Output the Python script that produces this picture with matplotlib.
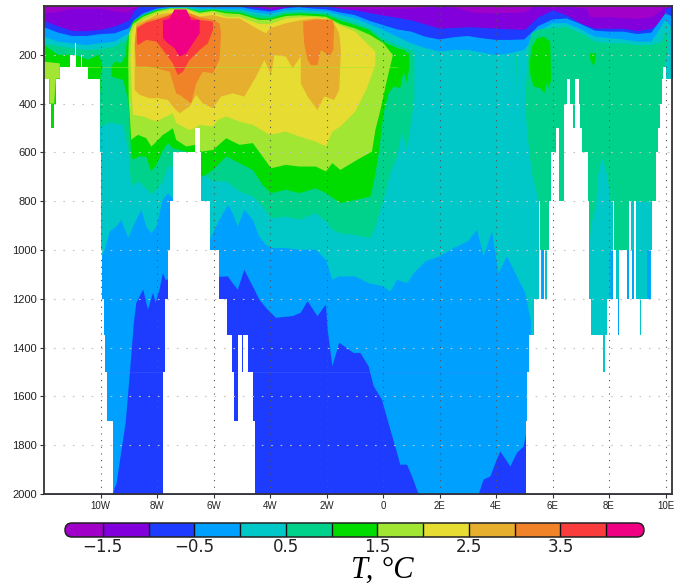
import numpy as np
import matplotlib
matplotlib.use("Agg")
import matplotlib.pyplot as plt
from matplotlib.patches import FancyBboxPatch

# band colours, coldest first (one per interval of the colour bar)
band_colors = ["#a000c8", "#8200dc", "#1e3cff", "#00a0ff", "#00c8c8", "#00d28c", "#00dc00",
               "#a0e632", "#e6dc32", "#e6af2d", "#f08228", "#fa3c3c", "#f00082"]
levels = [-1.5, -1.0, -0.5, 0.0, 0.5, 1.0, 1.5, 2.0, 2.5, 3.0, 3.5, 4.0]
cbar_labels = ["\u22121.5", "\u22120.5", "0.5", "1.5", "2.5", "3.5"]
cbar_ticks = [-1.5, -0.5, 0.5, 1.5, 2.5, 3.5]

x_ticks = [-10, -8, -6, -4, -2, 0, 2, 4, 6, 8, 10]
x_labels = ["10W", "8W", "6W", "4W", "2W", "0", "2E", "4E", "6E", "8E", "10E"]
y_ticks = [200, 400, 600, 800, 1000, 1200, 1400, 1600, 1800, 2000]

# sea floor, step per section between the edges
bathy_lon = [-12, -11.81, -11.74, -11.64, -11.58, -11.44, -11.08, -10.91, -10.87, -10.7, -10.66, -10.44,
             -10.02, -9.98, -9.93, -9.89, -9.83, -9.76, -9.55, -7.79, -7.7, -7.61, -7.53, -7.44, -6.67,
             -6.49, -6.44, -6.14, -5.81, -5.53, -5.34, -5.28, -5.13, -5.0, -4.96, -4.78, -4.61, -4.53,
             5.06, 5.11, 5.17, 5.36, 5.52, 5.55, 5.61, 5.69, 5.73, 5.81, 5.89, 5.94, 5.99, 6.05, 6.14,
             6.22, 6.4, 6.42, 6.51, 6.63, 6.73, 6.79, 6.95, 6.97, 7.05, 7.25, 7.29, 7.37, 7.78, 7.85, 7.93,
             8.14, 8.17, 8.25, 8.31, 8.37, 8.64, 8.7, 8.77, 8.82, 8.88, 8.96, 9.08, 9.14, 9.47, 9.53, 9.65,
             9.73, 9.82, 9.87, 9.9, 10.02, 10.25]
bathy_dep = [300, 400, 500, 400, 300, 250, 200, 150, 250, 200, 250, 300,
             600, 1000, 1200, 1350, 1500, 1700, 2000, 1500, 1200, 1000, 800, 600, 500,
             600, 800, 1000, 1200, 1350, 1500, 1700, 1350, 1500, 1350, 1500, 1700, 2000,
             1700, 1500, 1350, 1200, 800, 1000, 1200, 1000, 1200, 1000, 800, 600, 600, 600, 500,
             800, 500, 400, 300, 400, 500, 300, 400, 500, 600, 800, 1200, 1350, 1500, 1350, 1200,
             800, 1000, 1200, 1350, 1000, 1200, 800, 1000, 1200, 800, 1200, 1350, 1200, 1000, 800,
             600, 500, 400, 300, 250, 300]

# upper limits of the cold surface layers
t_m15_lon = [-12, -11.5, -11, -10, -9.5, -9.1, -8.8, -8.5, -4.5, -4, -3.5, -2, -1.5, 0, 1, 2, 2.5, 3.2, 4, 5,
             5.3, 6, 6.5, 7.2, 7.3, 8, 9, 9.5, 9.9, 10.25]
t_m15_dep = [30, 22, 10, 10, 20, 25, 8, 0, 0, 8, 0, 0, 8, 12, 8, 0, 5, 25, 28, 25,
             0, 5, 0, 10, 44, 44, 51, 44, 10, 0]

t_m10_lon = [-12, -11.5, -11, -10.5, -10, -9.5, -9, -8.8, -8.6, -5, -4.5, -3.8, -3.3, -2, -1.5, -1, 0, 1, 2, 3, 4, 5,
             5.5, 6, 6.5, 7, 7.5, 8, 8.5, 9, 9.5, 9.88, 10, 10.25]
t_m10_dep = [60, 82, 101, 101, 96, 82, 57, 16, 0, 0, 5, 16, 0, 0, 10, 16, 37, 57, 91, 85, 91, 96,
             44, 16, 37, 71, 91, 91, 91, 101, 91, 57, 10, 3]

lon_half = [-12, -11.5, -11, -10.5, -10, -9.5, -9, -8.8, -8.5, -8, -7.5, -7, -6.5, -6, -5.5, -5, -4.5, -4, -3.5, -3,
            -2.5, -2, -1.5, -1, -0.5, 0, 0.5, 1, 1.5, 2, 2.5, 3, 3.5, 4, 4.5, 5, 5.5, 6, 6.5, 7, 7.5, 8, 8.5, 9,
            9.5, 10, 10.25]
t_m05_top = [87, 109, 123, 123, 115, 112, 91, 57, 30, 10, 3, 0, 5, 5, 5, 5, 16, 23, 10, 5,
             10, 14, 27, 37, 60, 78, 96, 105, 126, 137, 128, 123, 132, 139, 139, 137, 82, 55, 51, 74, 101, 105, 105, 115,
             109, 30, 44]
t_00_top = [126, 146, 153, 160, 153, 146, 112, 74, 41, 16, 8, 5, 11, 11, 14, 14, 27, 33, 19, 16,
            19, 22, 37, 51, 74, 98, 126, 153, 173, 187, 180, 180, 191, 201, 194, 180, 105, 71, 71, 96, 126, 132, 137, 146,
            146, 57, 98]

# lower limit of T > -0.5, west to east
t_m05_bot_lon = [-12, -9.55, -9.49, -9.44, -9.29, -9.11, -8.96, -8.82, -8.73, -8.49, -8.32, -8.14, -8.05, -7.91, -7.79, -7.7,
                 -5.49, -5.32, -5.14, -4.91, -4.67, -4.55, -4.38, -4.14, -3.79, -3.2, -2.91, -2.67, -2.32, -2.02, -1.96,
                 -1.79, -1.55, -1.04, -0.8, -0.51, -0.33, -0.04, 0.26, 0.5, 0.61, 0.85, 1.03, 1.26, 3.39, 3.56, 3.8, 4.03,
                 4.15, 4.51, 4.74, 4.98, 5.05, 5.1, 5.15, 10.25]
t_m05_bot_dep = [2000, 2000, 1970, 1962, 1846, 1709, 1504, 1298, 1216, 1162, 1244, 1175, 1216, 1162, 1095, 1122,
                 1108, 1136, 1163, 1081, 1136, 1162, 1203, 1237, 1278, 1271, 1257, 1210, 1271, 1223, 1326,
                 1476, 1380, 1422, 1422, 1476, 1558, 1613, 1736, 1832, 1880, 1880, 1928, 2000, 2000, 1941, 1928, 1859,
                 1825, 1887, 1832, 1805, 1764, 1702, 2000, 2000]

# lower limit of T > 0, west to east (the notches are the narrow blue columns east of 5E)
t_00_bot_lon = [-12, -9.96, -9.85, -9.67, -9.44, -9.26, -9.02, -8.85, -8.55, -8.38, -8.2, -8.02, -7.79, -7.61,
                -6.14, -6.02, -5.79, -5.49, -5.32, -5.14, -4.91, -4.61, -4.38, -4.14, -3.91, -3.44, -2.96, -2.38,
                -2.02, -1.79, -1.55, -1, -0.5, 0, 0.26, 0.5, 0.85, 1.09, 1.5, 2, 2.5, 3, 3.33, 3.56, 3.86, 4.09,
                4.39, 4.51, 4.74, 5.04, 5.24, 5.28,
                5.61, 5.61, 5.69, 5.69, 8.05, 8.05, 8.14, 8.14, 8.31, 8.31, 8.37, 8.37, 8.64, 8.64, 8.7, 8.7,
                8.82, 8.82, 8.88, 8.88, 9.35, 9.35, 9.47, 9.47, 10.25]
t_00_bot_dep = [1026, 1026, 999, 924, 904, 876, 951, 904, 835, 904, 931, 904, 794, 767,
                958, 931, 876, 815, 849, 904, 835, 876, 945, 979, 992, 992, 999, 999,
                1040, 1122, 1108, 1108, 1136, 1149, 1170, 1122, 1136, 1095, 1047, 1026, 992, 965, 917, 1026, 924, 1095,
                1026, 1054, 1108, 1177, 1298, 2000,
                2000, 1000, 1000, 2000, 2000, 1000, 1000, 2000, 2000, 1200, 1200, 2000, 2000, 1000, 1000, 2000,
                2000, 1000, 1000, 2000, 2000, 1000, 1000, 2000, 2000]

# T > 0.5 outlines
t_05w_lon = [-12, -11.5, -11, -10.5, -10, -9.5, -9, -8.8, -8.5, -8, -7.5, -7, -6.5, -6, -5.5, -5, -4.5, -4, -3.5, -3,
             -2.5, -2, -1.5, -1, -0.5, 0, 0.5, 1, 1.11,
             1.11, 0.97, 0.85, 0.67, 0.5, 0.26, 0.02, -0.27, -0.45, -1, -1.51, -1.79, -2.02, -2.38, -2.96, -3.44,
             -3.96, -4.26, -4.61, -5.08, -5.55, -6.02, -6.38, -7.61, -7.79, -8.02, -8.2, -8.38, -8.67, -8.91, -9.02,
             -9.2, -9.67, -9.96, -12]
t_05w_dep = [153, 164, 173, 180, 177, 167, 132, 85, 51, 19, 10, 8, 14, 14, 16, 19, 37, 44, 27, 25,
             27, 30, 51, 68, 91, 132, 160, 180, 187,
             385, 494, 590, 521, 617, 685, 794, 904, 951, 938, 931, 917, 883, 849, 876, 863,
             870, 822, 781, 760, 719, 719, 685, 658, 719, 753, 774, 747, 719, 740, 590,
             487, 478, 494, 494]
t_05e_lon = [5.16, 5.27, 5.5, 6, 6.5, 7.01, 7.5, 8.01, 8.51, 9, 9.5, 9.88, 9.99, 10.11, 9.99,
             9.65, 8.7, 8.7, 8.14, 8.14, 8.05, 7.95, 7.75, 7.6, 7.55, 7.37, 7.29, 7.29, 5.89, 5.89, 5.55, 5.52,
             5.27, 5.16, 5.1, 5.04, 5.1]
t_05e_dep = [153, 112, 96, 91, 85, 112, 146, 153, 153, 160, 160, 146, 98, 146, 248,
             801, 801, 1000, 1000, 801, 801, 700, 620, 700, 810, 900, 1000, 801, 801, 1000, 1000, 801,
             685, 576, 521, 385, 248]
t_05s_lon = [4.71, 4.78, 4.74]
t_05s_dep = [194, 194, 364]

# T > 1 outlines
t_10w_lon = [-12, -11.5, -10.9, -10.44, -10.06, -9.93, -10, -10, -12]
t_10w_dep = [160, 200, 200, 220, 200, 248, 280, 350, 700]
t_10m_lon = [-9.61, -9.49, -9.26, -9.11, -9.08, -8.96, -8.85, -8.49, -8.02, -7.55, -6.96, -6.49, -6.02, -5.55, -5.08,
             -4.38, -4, -3.44, -2.96, -2.38, -2.02, -1.51, -1, -0.5, 0, 0.5, 0.73, 0.91, 0.93,
             0.85, 0.73, 0.61, 0.38, 0.2, 0.02, -0.15, -0.33, -0.45, -0.92, -1.51, -2.02, -2.38, -2.96, -3.44, -3.96,
             -4.26, -4.61, -5.08, -5.55, -6.02, -6.38, -6.49, -6.79, -7.2, -7.44, -7.61, -7.79, -8.02, -8.2, -8.38,
             -8.67, -8.85, -8.91, -9.02, -9.2, -9.44, -9.61]
t_10m_dep = [248, 228, 235, 201, 153, 98, 64, 37, 16, 10, 10, 23, 14, 23, 27,
             51, 51, 33, 30, 33, 37, 60, 78, 98, 146, 173, 180, 194, 248,
             317, 269, 337, 330, 358, 440, 603, 726, 781, 794, 808, 767, 747, 767, 753, 767,
             733, 672, 644, 617, 672, 699, 699, 603, 590, 583, 562, 590, 651, 678, 617,
             617, 631, 617, 385, 303, 296, 289]
t_10e_lon = [5.27, 5.45, 5.69, 5.92, 5.95, 5.86, 5.81, 5.71, 5.57, 5.33, 5.22, 5.19]
t_10e_dep = [167, 132, 126, 146, 303, 337, 310, 358, 337, 330, 283, 235]
t_10f_lon = [7.32, 7.55, 7.46, 7.34]
t_10f_dep = [194, 194, 248, 221]

# T > 1.5 outlines
t_15w_lon = [-12, -11.44, -11.44, -11.58, -11.64, -11.81, -11.81, -12]
t_15w_dep = [228, 235, 297, 297, 400, 400, 300, 300]
t_15m_lon = [-8.99, -8.85, -8.49, -8.02, -7.55, -6.96, -6.49, -6.02, -5.55, -5.08, -4.38, -4, -3.44, -2.96, -2.38, -2.02,
             -1.51, -1, -0.45, 0.02, 0.35, 0.14, -0.09, -0.27, -0.39, -0.92, -1.51, -1.79, -2.02, -2.38, -2.96, -3.44,
             -3.96, -4.26, -4.61, -5.08, -5.55, -6.02, -6.44, -6.67, -6.96, -7.32, -7.44, -7.61, -7.79, -8.02, -8.2,
             -8.38, -8.67, -8.85, -8.91, -9, -9.02]
t_15m_dep = [112, 74, 44, 22, 10, 10, 27, 19, 30, 33, 57, 57, 41, 38, 41, 44,
             74, 91, 119, 153, 201, 303, 426, 508, 597, 631, 672, 644, 678, 658, 658, 651,
             665, 617, 562, 569, 542, 590, 597, 569, 576, 549, 501, 515, 528, 556, 576,
             542, 528, 542, 549, 385, 221]

# T > 2 outline
t_20_lon = [-8.94, -8.91, -8.79, -8.49, -8.02, -7.55, -6.96, -6.49, -6.02, -5.55, -5.08, -4.38, -4, -3.44, -2.96, -2.38,
            -2.02, -1.55, -0.98, -0.63, -0.27, -0.27, -0.57, -0.98, -1.51, -1.79, -2.02, -2.38, -2.96, -3.44, -4.02,
            -4.61, -5.08, -5.55, -5.85, -6.02, -6.49, -6.67, -6.85, -7.32, -7.44, -7.67, -8.02, -8.49, -8.85, -8.88]
t_20_dep = [221, 112, 78, 57, 30, 16, 14, 33, 25, 44, 44, 74, 74, 51, 46, 46,
            51, 78, 105, 146, 187, 242, 337, 433, 494, 515, 576, 556, 535, 515, 528,
            487, 474, 453, 467, 494, 487, 501, 508, 480, 440, 453, 474, 453, 446, 385]

# T > 2.5 outline
t_25_lon = [-8.79, -8.79, -8.73, -8.38, -8.02, -7.67, -6.96, -6.49, -6.02, -5.55, -5.08, -4.38, -4.14, -4, -3.44, -2.85,
            -2.38, -1.79, -1.55, -1.49, -1.55, -1.73, -2.08, -2.32, -2.67, -2.91, -2.91, -3.2, -3.44, -3.85, -3.96,
            -4.2, -4.49, -4.91, -5.32, -5.73, -6.02, -6.38, -6.61, -6.85, -7.2, -7.44, -7.61, -7.96, -8.26, -8.61]
t_25_dep = [344, 180, 71, 57, 37, 30, 23, 44, 37, 51, 51, 98, 112, 91, 71, 57,
            51, 57, 112, 180, 344, 385, 371, 426, 371, 317, 207, 255, 207, 201, 283,
            221, 289, 371, 358, 371, 419, 399, 364, 412, 440, 412, 385, 378, 378, 364]

# T > 3 outlines
t_30w_lon = [-8.73, -8.26, -7.79, -7.32, -6.85, -6.49, -6.02, -5.79, -5.73, -5.79, -6.02, -6.38, -6.61, -6.79, -7.2,
             -7.32, -7.55, -7.79, -8.02, -8.38, -8.73, -8.79]
t_30w_dep = [85, 57, 44, 27, 30, 46, 57, 71, 112, 221, 276, 269, 317, 399, 364,
             358, 269, 262, 255, 248, 248, 160]
t_30e_lon = [-2.82, -2.82, -2.38, -1.79, -1.73, -1.76, -1.91, -2.02, -2.2, -2.32, -2.55, -2.67, -2.79]
t_30e_dep = [98, 64, 55, 57, 85, 180, 210, 194, 180, 242, 242, 221, 153]

# T > 3.5 outline
t_35_lon = [-8.71, -8.38, -8.02, -7.67, -7.2, -6.85, -6.49, -6.02, -6.02, -6.2, -6.49, -6.85, -7.08, -7.26, -7.44, -7.79,
            -8.02, -8.38, -8.67, -8.71]
t_35_dep = [91, 68, 57, 44, 16, 41, 57, 64, 98, 153, 180, 221, 269, 283, 235, 180,
            146, 139, 160, 153]

# T > 4 outline
t_40_lon = [-7.79, -7.55, -7.38, -6.96, -6.79, -6.49, -6.49, -6.73, -6.96, -7.2, -7.38, -7.61, -7.79]
t_40_dep = [60, 51, 14, 14, 57, 57, 112, 153, 194, 207, 173, 153, 132]

W, H = 677, 585
fig = plt.figure(figsize=(W / 100, H / 100), dpi=100)
plt.rcParams["font.family"] = ["Liberation Sans", "DejaVu Sans"]

ax = fig.add_axes([44 / W, 1 - 494 / H, 628 / W, 488 / H])
ax.set_xlim(-12, 10.23)
ax.set_ylim(2000, 0)

# coldest band first, warmer ones painted on top
ax.fill_between([-12, 10.25], 0, 2000, color=band_colors[0], lw=0)
ax.fill_between(t_m15_lon, t_m15_dep, 2000, color=band_colors[1], lw=0)
ax.fill_between(t_m10_lon, t_m10_dep, 2000, color=band_colors[2], lw=0)
ax.fill(lon_half + t_m05_bot_lon[::-1], t_m05_top + t_m05_bot_dep[::-1], color=band_colors[3], lw=0)
ax.fill(lon_half + t_00_bot_lon[::-1], t_00_top + t_00_bot_dep[::-1], color=band_colors[4], lw=0)
for lon, dep in [(t_05w_lon, t_05w_dep), (t_05e_lon, t_05e_dep), (t_05s_lon, t_05s_dep)]:
    ax.fill(lon, dep, color=band_colors[5], lw=0)
for lon, dep in [(t_10w_lon, t_10w_dep), (t_10m_lon, t_10m_dep), (t_10e_lon, t_10e_dep), (t_10f_lon, t_10f_dep)]:
    ax.fill(lon, dep, color=band_colors[6], lw=0)
for lon, dep in [(t_15w_lon, t_15w_dep), (t_15m_lon, t_15m_dep)]:
    ax.fill(lon, dep, color=band_colors[7], lw=0)
ax.fill(t_20_lon, t_20_dep, color=band_colors[8], lw=0)
ax.fill(t_25_lon, t_25_dep, color=band_colors[9], lw=0)
for lon, dep in [(t_30w_lon, t_30w_dep), (t_30e_lon, t_30e_dep)]:
    ax.fill(lon, dep, color=band_colors[10], lw=0)
ax.fill(t_35_lon, t_35_dep, color=band_colors[11], lw=0)
ax.fill(t_40_lon, t_40_dep, color=band_colors[12], lw=0)

# faint seams of the gridded data
ax.hlines(250, -12, 0.5, color="#a0e632", lw=0.6, alpha=0.6, zorder=2)
ax.hlines(1500, -9.8, 5.1, color="#5a78ff", lw=0.5, alpha=0.35, zorder=2)

# white below the sea floor
ax.fill_between(bathy_lon, bathy_dep + bathy_dep[-1:], 2000, step="post", color="white", lw=0, zorder=3)

for x in x_ticks:
    ax.axvline(x, color="#555555", lw=0.8, ls=(0, (1, 5)), zorder=4)
for y in y_ticks[:-1]:
    ax.axhline(y, color="#c4c4c4", lw=0.8, ls=(0, (1.5, 7)), zorder=4)

ax.set_xticks(x_ticks)
ax.set_xticklabels(x_labels, fontsize=7)
ax.set_yticks(y_ticks)
ax.set_yticklabels([str(y) for y in y_ticks], fontsize=8)
ax.tick_params(axis="both", length=3, width=0.8, color="#333333", labelcolor="#222222", pad=2)
for s in ax.spines.values():
    s.set_linewidth(1.3)
    s.set_color("#333333")
    s.set_zorder(6)

# colour bar with rounded ends
cax = fig.add_axes([65 / W, 1 - 537 / H, 579 / W, 14 / H])
cax.set_xlim(-1.913, 4.413)
cax.set_ylim(0, 1)
cax.axis("off")
pill = FancyBboxPatch((-1.913, 0), 6.326, 1, boxstyle="round,pad=0,rounding_size=0.0765",
                      mutation_aspect=6.54, fc="none", ec="#222222", lw=1.1, clip_on=False,
                      transform=cax.transData, zorder=5)
cax.add_patch(pill)
edges = [-2.0] + levels + [4.5]
for i, col in enumerate(band_colors):
    cell = cax.bar(edges[i], 1, width=edges[i + 1] - edges[i], align="edge", color=col, lw=0)[0]
    cell.set_clip_path(pill)
cax.vlines(levels, 0, 1, color="#111111", lw=1.0, zorder=4)

for tick, lab in zip(cbar_ticks, cbar_labels):
    cax.text(tick, -0.75, lab, ha="center", va="center", fontsize=12, family="DejaVu Sans", color="#222222")

fig.text(382 / W, 1 - 578 / H, "T, \u00b0C", ha="center", va="baseline", fontsize=22,
         family="Liberation Serif", style="italic", color="black")

fig.savefig("out.png", dpi=100)
